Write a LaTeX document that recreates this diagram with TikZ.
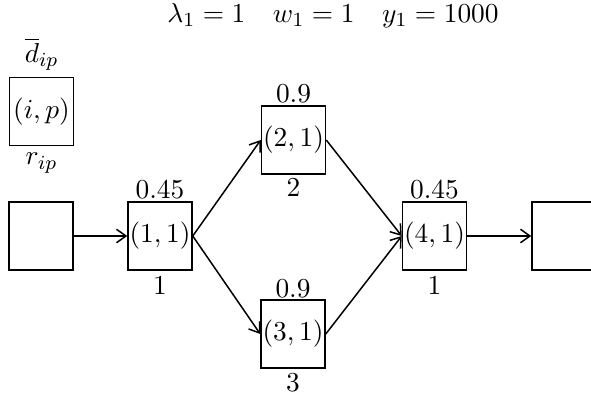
\documentclass[tikz,border=0pt]{standalone}
\usetikzlibrary{arrows.meta}
\begin{document}
\begin{tikzpicture}[x=0.4pt,y=-0.4pt,
  box/.style={draw, line width=0.6pt, minimum width=25.6pt, minimum height=27.2pt, inner sep=0pt, font=\fontsize{11}{13}\selectfont},
  lbl/.style={inner sep=0pt, font=\fontsize{11}{13}\selectfont},
  arr/.style={-{Straight Barb[length=3.8pt,width=5.4pt]}, line width=0.6pt}]
\useasboundingbox (0,0) rectangle (591,394);
\clip (0,0) rectangle (591,394);
\node[lbl] (title) at (333,16) {$\lambda_1 = 1 \quad w_1 = 1 \quad y_1 = 1000$};
% legend
\node[box] (leg) at (41.5,111.5) {$(i,p)$};
\node[lbl] (dbar) at (41.5,54) {$\overline{d}_{ip}$};
\node[lbl] (rip) at (41.5,163) {$r_{ip}$};
% boxes
\node[box] (src) at (41,236) {};
\node[box] (n11) at (160,236) {$(1,1)$};
\node[box] (n21) at (293.5,140) {$(2,1)$};
\node[box] (n31) at (293,334) {$(3,1)$};
\node[box] (n41) at (434.5,236) {$(4,1)$};
\node[box] (snk) at (564,236) {};
% labels
\node[lbl] (a11) at (160,190) {$0.45$};
\node[lbl] (b11) at (160,286) {$1$};
\node[lbl] (a21) at (293.5,94) {$0.9$};
\node[lbl] (b21) at (293.5,188) {$2$};
\node[lbl] (a31) at (293,289) {$0.9$};
\node[lbl] (b31) at (293,383) {$3$};
\node[lbl] (a41) at (434.5,190) {$0.45$};
\node[lbl] (b41) at (434.5,286) {$1$};
% arrows
\draw[arr] (src.east) -- (n11.west);
\draw[arr] (n11.east) -- (n21.west);
\draw[arr] (n11.east) -- (n31.west);
\draw[arr] (n21.east) -- (n41.west);
\draw[arr] (n31.east) -- (n41.west);
\draw[arr] (n41.east) -- (snk.west);
\end{tikzpicture}
\end{document}
